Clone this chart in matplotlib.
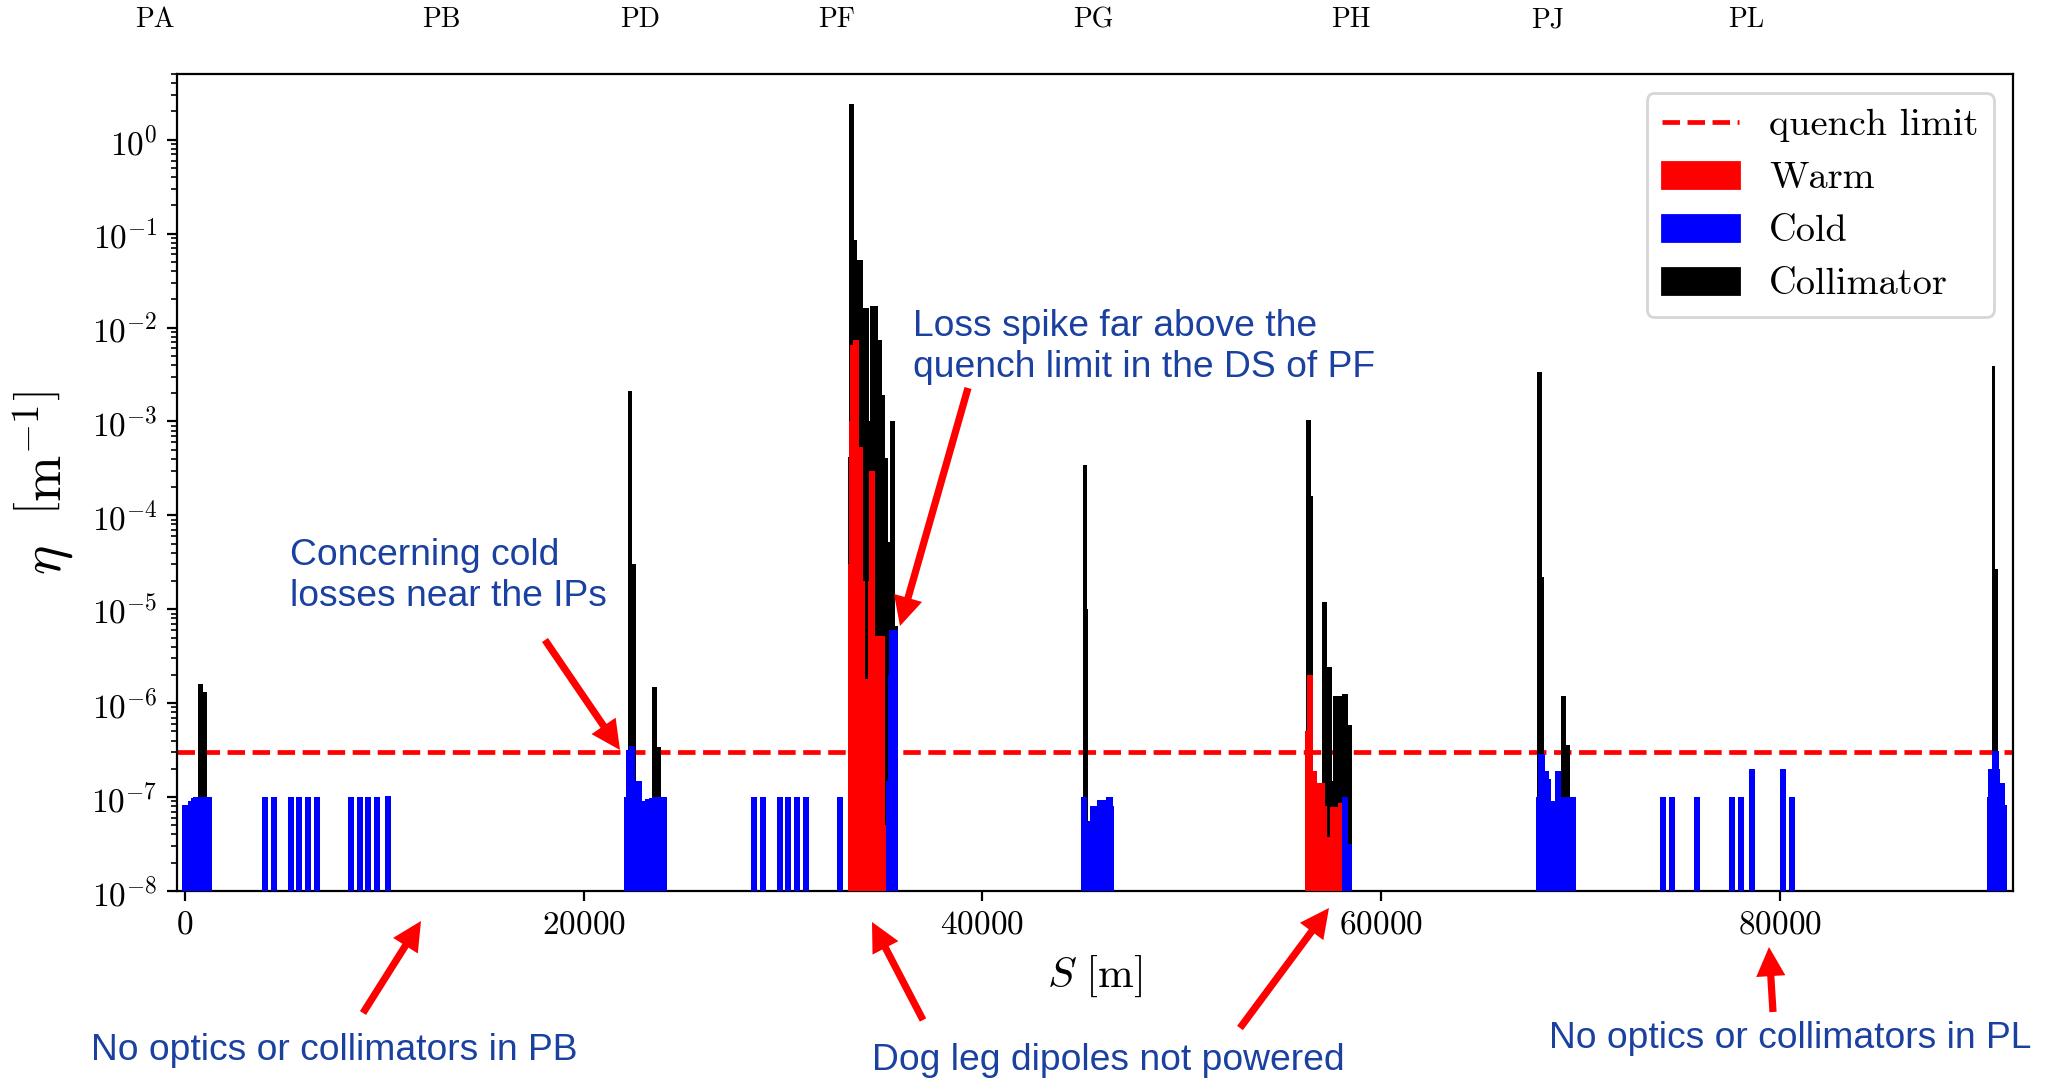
import matplotlib
matplotlib.use('Agg')
import matplotlib.pyplot as plt
from matplotlib.patches import Patch
from matplotlib.lines import Line2D
from matplotlib.transforms import blended_transform_factory

plt.rcParams.update({
    'font.family': 'serif',
    'font.serif': ['cmr10'],
    'mathtext.fontset': 'cm',
    'axes.formatter.use_mathtext': True,
})

# quench limit [m^-1]
quench_limit = 3e-7

# section labels along the ring (S in m)
section_names = ['PA', 'PB', 'PD', 'PF', 'PG', 'PH', 'PJ', 'PL']
section_s = [-1525, 12875, 22822, 32703, 45562, 58457, 68370, 78320]

# cold losses: histogram bin edges and eta per region
pa_cold_s = [-165, 150, 300, 420, 1340]
pa_cold_eta = [8.2e-8, 9.0e-8, 9.7e-8, 1.0e-7]
pd_cold_s = [22019, 22104, 22285, 22571, 22939, 23072, 23250, 23407, 24192]
pd_cold_eta = [1.0e-7, 3.2e-7, 3.5e-7, 1.5e-7, 9.0e-8, 9.5e-8, 9.8e-8, 1.0e-7]
pf_cold_s = [35160, 35250, 35330, 35746]
pf_cold_eta = [1.5e-7, 2.0e-6, 6.0e-6]
pg_cold_s = [44940, 45257, 45392, 45726, 46195, 46529, 46612]
pg_cold_eta = [1.0e-7, 5.6e-8, 8.1e-8, 9.2e-8, 1.0e-7, 8.1e-8]
ph_cold_s = [58050, 58351, 58518]
ph_cold_eta = [1.0e-7, 3.2e-8]
pj_cold_s = [67756, 67842, 68194, 68399, 68538, 68715, 69012, 69764]
pj_cold_eta = [1.0e-7, 2.9e-7, 1.9e-7, 1.55e-7, 9.1e-8, 1.9e-7, 1.0e-7]
end_cold_s = [90373, 90458, 90633, 90965, 91054, 91281, 91401]
end_cold_eta = [1.0e-7, 2.0e-7, 3.1e-7, 2.0e-7, 1.4e-7, 8.3e-8]

# isolated cold bins in the arcs
arc_s = [4013, 4449, 5307, 5743, 6185, 6611, 8336, 8767, 9194, 9640, 10199,
         28531, 28983, 29833, 30260, 30705, 31137, 32838,
         74138, 74574, 75851, 77587, 78023, 78575, 80130, 80627]
arc_eta = [1.0e-7] * 10 + [1.02e-7] + [1.0e-7] * 7 + \
          [1.0e-7, 1.0e-7, 1.0e-7, 1.0e-7, 1.0e-7, 2.0e-7, 2.0e-7, 1.0e-7]
arc_bin = 300

# warm losses
pf_warm_s = [33237, 33290, 33354, 33521, 33823, 33990, 34100, 34240, 34325,
             34608, 35110, 35445]
pf_warm_eta = [3e-5, 1e-3, 6.5e-3, 7.4e-3, 5.3e-4, 2e-5, 1.8e-6, 2e-5, 3e-4,
               5.2e-6, 5e-8]
ph_warm_s = [56176, 56260, 56570, 56795, 57180, 57297, 57450, 57849, 58133]
ph_warm_eta = [5e-7, 2e-6, 1.9e-7, 1.4e-7, 8e-8, 3.8e-8, 7.9e-8, 8.7e-8]

# collimator losses
pa_coll_s = [637, 888, 1088]
pa_coll_eta = [1.6e-6, 1.3e-6]
pd_coll_s = [22204, 22404, 22605]
pd_coll_eta = [2.1e-3, 3e-5]
pd2_coll_s = [23440, 23660, 23860]
pd2_coll_eta = [1.5e-6, 3.4e-7]
pf_coll_s = [33237, 33304, 33555, 33722, 33990, 34024, 34325, 34360, 34776,
             34943, 35110, 35277, 35361, 35612, 35746]
pf_coll_eta = [4.2e-4, 2.4, 8.5e-2, 5.2e-2, 5e-4, 1.6e-2, 1e-3, 1.7e-2,
               7.4e-3, 1.9e-3, 4.1e-4, 5.2e-5, 1.0e-3, 6.7e-6]
pg_coll_s = [45023, 45224, 45307]
pg_coll_eta = [3.4e-4, 1e-5]
ph_coll_s = [56210, 56460, 56594]
ph_coll_eta = [1.03e-3, 1.6e-4]
ph2_coll_s = [57013, 57297, 57514, 57598, 58017, 58351, 58518]
ph2_coll_eta = [1.2e-5, 2.4e-6, 1.5e-7, 1.2e-6, 1.25e-6, 5.8e-7]
pj_coll_s = [67791, 68060, 68139]
pj_coll_eta = [3.4e-3, 2.2e-5]
pj2_coll_s = [69012, 69276, 69448]
pj2_coll_eta = [1.2e-6, 3.6e-7]
end_coll_s = [90614, 90790, 90930]
end_coll_eta = [3.85e-3, 2.7e-5]

cold = [(pa_cold_s, pa_cold_eta), (pd_cold_s, pd_cold_eta), (pf_cold_s, pf_cold_eta),
        (pg_cold_s, pg_cold_eta), (ph_cold_s, ph_cold_eta), (pj_cold_s, pj_cold_eta),
        (end_cold_s, end_cold_eta)]
warm = [(pf_warm_s, pf_warm_eta), (ph_warm_s, ph_warm_eta)]
coll = [(pa_coll_s, pa_coll_eta), (pd_coll_s, pd_coll_eta), (pd2_coll_s, pd2_coll_eta),
        (pf_coll_s, pf_coll_eta), (pg_coll_s, pg_coll_eta), (ph_coll_s, ph_coll_eta),
        (ph2_coll_s, ph2_coll_eta), (pj_coll_s, pj_coll_eta), (pj2_coll_s, pj2_coll_eta),
        (end_coll_s, end_coll_eta)]

fig = plt.figure(figsize=(10.23, 5.405), dpi=200)
ax = fig.add_axes([0.0865, 0.1758, 0.8974, 0.7557])

base = 1e-10
for edges, vals in coll:
    ax.stairs(vals, edges, fill=True, baseline=base, color='black', lw=0, zorder=2)
for edges, vals in warm:
    ax.stairs(vals, edges, fill=True, baseline=base, color='red', lw=0, zorder=3)
for edges, vals in cold:
    ax.stairs(vals, edges, fill=True, baseline=base, color='blue', lw=0, zorder=4)
ax.bar(arc_s, arc_eta, width=arc_bin, bottom=base, color='blue', lw=0, zorder=4)

ax.axhline(quench_limit, color='red', ls='--', lw=1.7, zorder=1.5)

ax.set_yscale('log')
ax.set_ylim(1e-8, 5.0)
ax.set_xlim(-400, 91690)
ax.tick_params(labelsize=12)
ax.set_xlabel(r'$S\ [\mathrm{m}]$', fontsize=15.5, labelpad=5)
ax.set_ylabel(r'$\eta\ \ \left[\mathrm{m}^{-1}\right]$', fontsize=20, labelpad=6)

handles = [Line2D([], [], color='red', ls='--', lw=1.7),
           Patch(color='red'), Patch(color='blue'), Patch(color='black')]
ax.legend(handles, ['quench limit', 'Warm', 'Cold', 'Collimator'],
          loc='upper right', fontsize=13.8)

# section names above the plot
trans = blended_transform_factory(ax.transData, fig.transFigure)
for name, s in zip(section_names, section_s):
    ax.text(s, 0.9815, name, transform=trans, ha='center', va='center',
            fontsize=10, clip_on=False)

# annotations (figure pixel positions, from the top)
W, H = 2046, 1081
note_color = '#1a40a0'
notes = [
    (290, 576, 'Concerning cold\nlosses near the IPs'),
    (913, 347, 'Loss spike far above the\nquench limit in the DS of PF'),
    (91, 1050, 'No optics or collimators in PB'),
    (872, 1060, 'Dog leg dipoles not powered'),
    (1549, 1038, 'No optics or collimators in PL'),
]
for x, y, txt in notes:
    fig.text(x / W, 1 - y / H, txt, fontsize=13.4, family='Liberation Sans',
             color=note_color, ha='left', va='center', linespacing=1.2)

arrows = [
    ((545, 640), (620, 750)),
    ((968, 388), (900, 626)),
    ((363, 1013), (421, 921)),
    ((923, 1020), (872, 922)),
    ((1240, 1028), (1329, 908)),
    ((1773, 1012), (1769, 947)),
]
for (tx, ty), (hx, hy) in arrows:
    ax.annotate('', xy=(hx, H - hy), xytext=(tx, H - ty),
                xycoords='figure pixels', textcoords='figure pixels',
                arrowprops=dict(arrowstyle='simple,head_length=1.05,head_width=1.05,tail_width=0.26',
                                color='red', lw=0, mutation_scale=10,
                                shrinkA=0, shrinkB=0))

fig.savefig('out.png', dpi=200)
